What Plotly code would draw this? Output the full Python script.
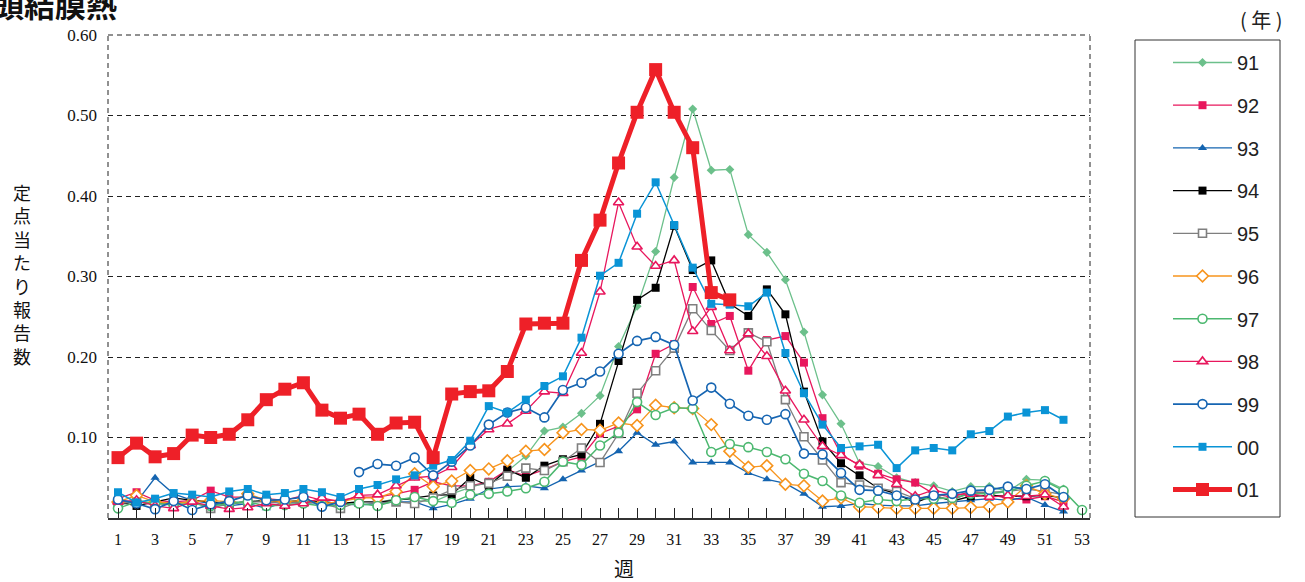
import plotly.graph_objects as go

weeks = list(range(1, 54))
week_labels = [str(w) if w % 2 == 1 else "" for w in weeks]
y_ticks = [0.1, 0.2, 0.3, 0.4, 0.5, 0.6]

y91 = [0.015, 0.022, 0.018, 0.020, 0.018, 0.015, 0.020, 0.020, 0.022, 0.020, 0.022, 0.020, 0.018,
       0.020, 0.018, 0.025, 0.022, 0.020, 0.030, 0.038, 0.045, 0.058, 0.077, 0.108, 0.113, 0.130,
       0.152, 0.213, 0.263, 0.331, 0.423, 0.508, 0.432, 0.433, 0.352, 0.330, 0.296, 0.231, 0.153,
       0.117, 0.068, 0.064, 0.050, 0.044, 0.040, 0.033, 0.039, 0.039, 0.033, 0.048, 0.047, 0.036, None]
y92 = [0.024, 0.032, 0.022, 0.020, 0.022, 0.034, 0.026, 0.026, 0.024, 0.022, 0.028, 0.022, 0.022,
       0.026, 0.026, 0.030, 0.035, 0.045, 0.040, 0.040, 0.045, 0.060, 0.052, 0.060, 0.070, 0.076,
       0.105, 0.114, 0.135, 0.204, 0.216, 0.287, 0.241, 0.251, 0.183, 0.221, 0.226, 0.193, 0.124,
       0.079, 0.065, 0.055, 0.048, 0.044, 0.030, 0.026, 0.033, 0.030, 0.024, 0.023, 0.027, 0.020, None]
y93 = [0.022, 0.020, 0.050, 0.030, 0.022, 0.018, 0.015, 0.018, 0.012, 0.020, 0.018, 0.020, 0.018,
       0.016, 0.018, 0.020, 0.020, 0.012, 0.017, 0.024, 0.036, 0.039, 0.040, 0.037, 0.048, 0.059,
       0.070, 0.083, 0.106, 0.091, 0.095, 0.069, 0.069, 0.069, 0.056, 0.048, 0.043, 0.030, 0.014,
       0.015, 0.018, 0.016, 0.015, 0.015, 0.018, 0.020, 0.022, 0.024, 0.022, 0.026, 0.016, 0.008, None]
y94 = [0.020, 0.015, 0.020, 0.025, 0.022, 0.020, 0.018, 0.020, 0.022, 0.020, 0.022, 0.020, 0.018,
       0.020, 0.020, 0.022, 0.025, 0.028, 0.029, 0.050, 0.040, 0.060, 0.050, 0.065, 0.073, 0.079,
       0.117, 0.195, 0.271, 0.286, 0.363, 0.308, 0.320, 0.266, 0.251, 0.284, 0.253, 0.157, 0.095,
       0.068, 0.053, 0.037, 0.030, 0.019, 0.028, 0.021, 0.027, 0.028, 0.027, 0.027, 0.028, 0.025, None]
y95 = [0.018, 0.020, 0.018, 0.018, 0.020, 0.012, 0.018, 0.020, 0.020, 0.018, 0.020, 0.018, 0.012,
       0.020, 0.018, 0.020, 0.018, 0.025, 0.035, 0.040, 0.043, 0.052, 0.062, 0.059, 0.070, 0.087,
       0.069, 0.105, 0.155, 0.183, 0.211, 0.260, 0.233, 0.208, 0.230, 0.219, 0.147, 0.101, 0.072,
       0.044, 0.041, 0.037, 0.033, 0.024, 0.028, 0.022, 0.032, 0.032, 0.033, 0.036, 0.033, 0.029, None]
y96 = [0.020, 0.028, 0.020, 0.018, 0.020, 0.022, 0.020, 0.030, 0.022, 0.020, 0.022, 0.018, 0.020,
       0.025, 0.025, 0.033, 0.055, 0.039, 0.046, 0.059, 0.061, 0.071, 0.083, 0.085, 0.106, 0.110,
       0.109, 0.118, 0.115, 0.140, 0.137, 0.136, 0.116, 0.083, 0.063, 0.065, 0.042, 0.040, 0.021,
       0.025, 0.014, 0.013, 0.012, 0.012, 0.012, 0.012, 0.013, 0.014, 0.020, 0.040, 0.030, 0.024, None]
y97 = [0.012, 0.020, 0.018, 0.016, 0.018, 0.015, 0.018, 0.020, 0.015, 0.016, 0.018, 0.015, 0.016,
       0.018, 0.015, 0.022, 0.026, 0.021, 0.019, 0.029, 0.030, 0.033, 0.037, 0.045, 0.070, 0.066,
       0.090, 0.106, 0.144, 0.128, 0.137, 0.136, 0.082, 0.092, 0.088, 0.082, 0.073, 0.055, 0.046,
       0.028, 0.019, 0.023, 0.021, 0.024, 0.024, 0.025, 0.030, 0.030, 0.033, 0.040, 0.046, 0.034, 0.010]
y98 = [0.020, 0.022, 0.015, 0.012, 0.020, 0.015, 0.011, 0.013, 0.018, 0.015, 0.018, 0.025, 0.020,
       0.028, 0.029, 0.040, 0.050, 0.052, 0.063, 0.090, 0.110, 0.117, 0.133, 0.157, 0.155, 0.205,
       0.281, 0.392, 0.337, 0.313, 0.320, 0.232, 0.262, 0.208, 0.229, 0.201, 0.158, 0.122, 0.089,
       0.078, 0.066, 0.053, 0.042, 0.027, 0.035, 0.029, 0.030, 0.026, 0.028, 0.027, 0.029, 0.014, None]
y99 = [0.023, 0.018, 0.011, 0.021, 0.010, 0.017, 0.021, 0.028, 0.022, 0.023, 0.026, 0.014, 0.020,
       0.057, 0.067, 0.065, 0.075, 0.053, 0.070, 0.090, 0.116, 0.131, 0.137, 0.125, 0.159, 0.168,
       0.182, 0.204, 0.220, 0.225, 0.215, 0.146, 0.162, 0.142, 0.127, 0.122, 0.129, 0.080, 0.079,
       0.056, 0.035, 0.034, 0.028, 0.023, 0.028, 0.030, 0.034, 0.035, 0.039, 0.036, 0.042, 0.026, None]
y99_break_week = 14
y00 = [0.032, 0.019, 0.024, 0.031, 0.029, 0.026, 0.033, 0.036, 0.029, 0.031, 0.036, 0.032, 0.026,
       0.036, 0.041, 0.048, 0.053, 0.065, 0.072, 0.096, 0.139, 0.131, 0.147, 0.164, 0.176, 0.224,
       0.301, 0.317, 0.378, 0.417, 0.364, 0.311, 0.266, 0.265, 0.263, 0.280, 0.205, 0.155, 0.116,
       0.087, 0.089, 0.091, 0.062, 0.084, 0.087, 0.084, 0.104, 0.108, 0.126, 0.131, 0.134, 0.122, None]
y01 = [0.075, 0.093, 0.076, 0.080, 0.103, 0.100, 0.104, 0.122, 0.147, 0.160, 0.168, 0.134, 0.124,
       0.129, 0.104, 0.118, 0.119, 0.075, 0.154, 0.157, 0.158, 0.182, 0.241, 0.242, 0.242, 0.320,
       0.370, 0.441, 0.504, 0.557, 0.504, 0.460, 0.280, 0.271]

series = [
    ("91", y91, "#6cc08b", "diamond", 7, 1.3, False),
    ("92", y92, "#e8175d", "square", 8, 1.3, False),
    ("93", y93, "#1464b0", "triangle-up", 8, 1.3, False),
    ("94", y94, "#000000", "square", 8, 1.3, False),
    ("95", y95, "#7f7f7f", "square", 8, 1.3, True),
    ("96", y96, "#f7941d", "diamond", 9, 1.3, True),
    ("97", y97, "#4cb870", "circle", 9, 1.5, True),
    ("98", y98, "#e8175d", "triangle-up", 9, 1.3, True),
    ("99", y99, "#1665b2", "circle", 9, 1.7, True),
    ("00", y00, "#0a94d6", "square", 8, 1.5, False),
]

fig = go.Figure()
for name, ys, color, sym, size, lw, hollow in series:
    marker = dict(symbol=sym, size=size, color="white" if hollow else color,
                  line=dict(color=color, width=1.6 if hollow else 0))
    if name == "99":
        k = y99_break_week - 1
        fig.add_trace(go.Scatter(x=weeks[:k], y=ys[:k], mode="lines+markers", name=name,
                                 legendgroup=name, showlegend=False,
                                 line=dict(color=color, width=lw), marker=marker))
        fig.add_trace(go.Scatter(x=weeks[k:], y=ys[k:], mode="lines+markers", name=name,
                                 legendgroup=name, line=dict(color=color, width=lw), marker=marker))
    else:
        fig.add_trace(go.Scatter(x=weeks, y=ys, mode="lines+markers", name=name, legendgroup=name,
                                 line=dict(color=color, width=lw), marker=marker))

fig.add_trace(go.Scatter(x=weeks[:len(y01)], y=y01, mode="lines+markers", name="01", legendgroup="01",
                         line=dict(color="#ee2028", width=5),
                         marker=dict(symbol="square", size=13, color="#ee2028")))

L, R, T, B = 108, 215, 35, 64
W, H = 1305, 582
pw, ph = W - L - R, H - T - B

def px(p):
    return (p - L) / pw

def py(p):
    return (H - B - p) / ph

serif = "Liberation Serif, Times New Roman, serif"

fig.update_layout(
    width=W, height=H,
    margin=dict(l=L, r=R, t=T, b=B, autoexpand=False),
    paper_bgcolor="white", plot_bgcolor="white",
    font=dict(family=serif, size=16, color="#111"),
    xaxis=dict(range=[0.46, 53.43], tickmode="array", tickvals=weeks, ticktext=week_labels,
               ticks="inside", ticklen=10, tickcolor="#222", tickwidth=1,
               showgrid=False, zeroline=False, showline=True, linecolor="#333", linewidth=2,
               tickfont=dict(family=serif, size=16, color="#111"),
               ticklabelstandoff=6),
    yaxis=dict(range=[0, 0.6], tickmode="array", tickvals=y_ticks,
               ticktext=["%.2f" % v for v in y_ticks],
               showgrid=True, gridcolor="#222", gridwidth=1, griddash="5px,4px",
               zeroline=False, showline=False, ticks="",
               tickfont=dict(family=serif, size=17, color="#111"),
               ticklabelstandoff=10),
    legend=dict(x=px(1168), y=py(43), xanchor="left", yanchor="top",
                font=dict(family="Liberation Sans, Arial, sans-serif", size=20, color="#222"),
                bgcolor="rgba(0,0,0,0)", borderwidth=0, tracegroupgap=13.7,
                traceorder="grouped", itemwidth=59, maxheight=560),
    showlegend=True,
)

# frame (dashed top/left/right)
for x0, y0, x1, y1 in [(0, 1, 1, 1), (0, 0, 0, 1), (1, 0, 1, 1)]:
    fig.add_shape(type="line", xref="paper", yref="paper", x0=x0, y0=y0, x1=x1, y1=y1,
                  line=dict(color="#222", width=1, dash="5px,4px"), layer="below")

# legend box
fig.add_shape(type="rect", xref="paper", yref="paper", x0=px(1135), x1=px(1280), y0=py(517), y1=py(40),
              line=dict(color="#333", width=1))

fig.add_annotation(text="(\u00a0年\u00a0)", xref="paper", yref="paper", x=px(1261), y=py(19),
                   xanchor="center", yanchor="middle",
                   showarrow=False, font=dict(family="Noto Sans CJK JP", size=20, color="#222"))

fig.add_annotation(text="咽頭結膜熱", xref="paper", yref="paper", x=px(119), y=py(3),
                   xanchor="right", yanchor="middle", showarrow=False,
                   font=dict(family="Noto Sans CJK JP", size=31, color="#111", weight="bold"))

fig.add_annotation(text="<br>".join(list("定点当たり報告数")), xref="paper", yref="paper",
                   x=px(22), y=py(274), xanchor="center", yanchor="middle", showarrow=False,
                   font=dict(family="Noto Sans CJK JP", size=18, color="#111"))

fig.add_annotation(text="週", xref="paper", yref="paper", x=px(624), y=py(568),
                   xanchor="center", yanchor="middle", showarrow=False,
                   font=dict(family="Noto Sans CJK JP", size=20, color="#111"))

fig.write_html("out.html", config={"displayModeBar": False},
               post_script="document.body.style.margin='0';document.body.style.overflow='hidden';")
